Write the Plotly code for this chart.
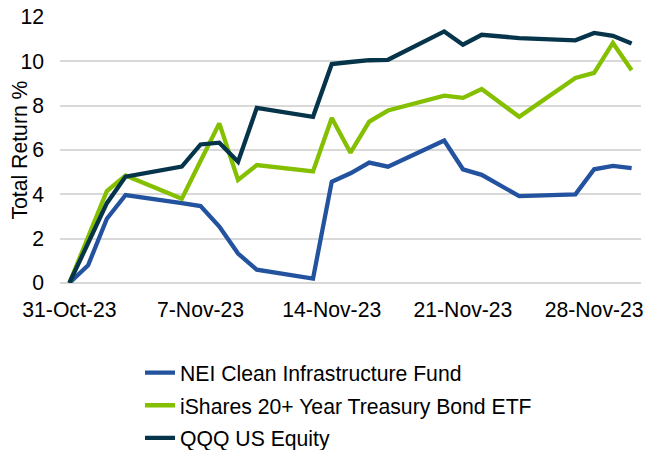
import plotly.graph_objects as go

dates = ["2023-10-31", "2023-11-01", "2023-11-02", "2023-11-03", "2023-11-06",
         "2023-11-07", "2023-11-08", "2023-11-09", "2023-11-10", "2023-11-13",
         "2023-11-14", "2023-11-15", "2023-11-16", "2023-11-17", "2023-11-20",
         "2023-11-21", "2023-11-22", "2023-11-24", "2023-11-27", "2023-11-28",
         "2023-11-29", "2023-11-30"]

nei = [0, 0.8, 2.9, 3.97, 3.6, 3.47, 2.55, 1.33, 0.6, 0.2, 4.57, 4.95, 5.43,
       5.25, 6.43, 5.13, 4.88, 3.92, 4.0, 5.13, 5.28, 5.18]
ishares = [0, 2.05, 4.15, 4.85, 3.8, 5.5, 7.2, 4.65, 5.32, 5.03, 7.44, 5.88,
           7.28, 7.78, 8.45, 8.35, 8.75, 7.5, 9.25, 9.48, 10.83, 9.6]
qqq = [0, 1.8, 3.6, 4.8, 5.25, 6.25, 6.33, 5.47, 7.9, 7.5, 9.88, 9.97, 10.05,
       10.07, 11.35, 10.75, 11.2, 11.05, 10.95, 11.28, 11.15, 10.8]

series_names = ["NEI Clean Infrastructure Fund",
                "iShares 20+ Year Treasury Bond ETF",
                "QQQ US Equity"]
series_values = [nei, ishares, qqq]
series_colors = ["#23529E", "#84BF00", "#06344A"]

tick_dates = ["2023-10-31", "2023-11-07", "2023-11-14", "2023-11-21", "2023-11-28"]
tick_labels = ["31-Oct-23", "7-Nov-23", "14-Nov-23", "21-Nov-23", "28-Nov-23"]
y_title = "Total Return %"

FONT = "Liberation Sans, Arial, sans-serif"
FS = 21.2

fig = go.Figure()
for i, (name, vals, col) in enumerate(zip(series_names, series_values, series_colors)):
    fig.add_trace(go.Scatter(
        x=dates, y=vals, name=name, mode="lines",
        line=dict(color=col, width=4.3),
        legendgroup="g%d" % i, cliponaxis=False,
    ))

fig.update_layout(
    width=645, height=450,
    margin=dict(l=60, r=4, t=17, b=167, autoexpand=False),
    paper_bgcolor="white", plot_bgcolor="white",
    font=dict(family=FONT, size=FS, color="#000000"),
    showlegend=True,
    legend=dict(
        x=0.1377, xanchor="left", y=-0.261, yanchor="top",
        orientation="v", tracegroupgap=2,
        font=dict(family=FONT, size=FS, color="#000000"),
        bgcolor="rgba(0,0,0,0)",
    ),
    annotations=[dict(
        text=y_title, xref="paper", yref="paper",
        x=-0.0714, y=0.5, xanchor="center", yanchor="middle",
        textangle=-90, showarrow=False,
        font=dict(family=FONT, size=FS, color="#000000"),
    )],
)
fig.update_xaxes(
    type="date", automargin=False,
    range=["2023-10-30 12:00", "2023-11-30 12:00"],
    tickvals=tick_dates, ticktext=tick_labels,
    showgrid=False, zeroline=False, showline=False, ticks="",
    ticklabelstandoff=12, ticklabeloverflow="allow",
    tickfont=dict(family=FONT, size=FS, color="#000000"),
)
fig.update_yaxes(
    range=[0, 12.0001], dtick=2, tick0=0, automargin=False,
    showgrid=True, gridcolor="#D9D9D9", gridwidth=1.5,
    zeroline=True, zerolinecolor="#D9D9D9", zerolinewidth=1.5,
    showline=False, ticks="",
    ticklabelstandoff=15, ticklabeloverflow="allow",
    tickfont=dict(family=FONT, size=FS, color="#000000"),
)

# remove the default 8px body margin so the 645x450 figure fills the window
fig.write_html("out.html",
               config={"displayModeBar": False},
               post_script="document.body.style.margin='0';"
                           "document.body.style.overflow='hidden';")
